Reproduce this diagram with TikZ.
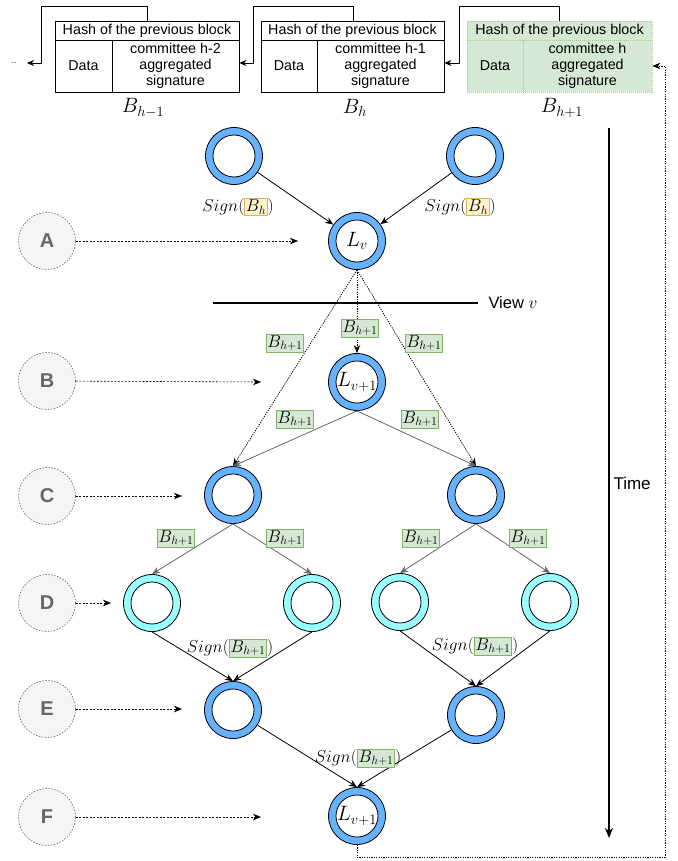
\documentclass[tikz,border=0pt]{standalone}
\usepackage{fontspec}
\setmainfont{Liberation Sans}
\usetikzlibrary{arrows.meta}
\definecolor{ringblue}{HTML}{66B2FF}
\definecolor{ringcyan}{HTML}{99FFFF}
\definecolor{gfill}{HTML}{D5E8D4}
\definecolor{gdraw}{HTML}{82B366}
\definecolor{yfill}{HTML}{FFF2CC}
\definecolor{ydraw}{HTML}{D6B656}
\definecolor{lfill}{HTML}{F5F5F5}
\definecolor{ldraw}{HTML}{666666}
\definecolor{garrow}{HTML}{666666}
\tikzset{
  ring/.style={circle, draw=black, line width=0.8pt, fill=ringblue, minimum size=57pt, inner sep=0pt,
    path picture={\draw[fill=white, line width=0.8pt] (path picture bounding box.center) circle (21pt);}},
  cring/.style={ring, fill=ringcyan},
  lring/.style={ring, font=\fontsize{21}{24}\selectfont},
  letter/.style={circle, draw=ldraw, fill=lfill, dash pattern=on 1.5pt off 1.5pt, line width=0.6pt,
    minimum size=57pt, inner sep=0pt, text=ldraw, font=\fontsize{20}{22}\selectfont\bfseries},
  cell/.style={draw=black, line width=0.8pt, rectangle, inner sep=0pt, align=center,
    font=\fontsize{14.3}{16}\selectfont},
  gcell/.style={cell, draw=gdraw!70, fill=gfill, dash pattern=on 1pt off 1pt},
  blab/.style={font=\fontsize{20}{22}\selectfont},
  gbox/.style={draw=gdraw, fill=gfill, inner sep=1.2pt, line width=0.6pt},
  ybox/.style={draw=ydraw, fill=yfill, inner sep=1.2pt, line width=0.6pt},
  lab/.style={font=\fontsize{17}{19}\selectfont, inner sep=1pt},
  tip/.style={-{Stealth[length=8pt,width=6.5pt]}},
  blk/.style={tip, line width=0.8pt},
  gry/.style={tip, line width=0.8pt, draw=garrow},
  dots/.style={tip, line width=0.8pt, dash pattern=on 1.2pt off 1.2pt},
  side/.style={tip, line width=0.6pt, dash pattern=on 2pt off 1.5pt},
}
\newcommand{\gB}{\tikz[baseline=(b.base)]\node[gbox](b){$B_{h+1}$};}
\newcommand{\yB}{\tikz[baseline=(b.base)]\node[ybox](b){$B_{h}$};}
\begin{document}
\begin{tikzpicture}[x=1pt,y=-1pt]
\useasboundingbox (0,0) rectangle (677,861);
% ---- blocks ----
% block 1
\node[cell, minimum width=184pt, minimum height=19pt] (h1) at (147,30.5) {Hash of the previous block};
\node[cell, minimum width=57pt, minimum height=52pt] (d1) at (83.5,66) {Data};
\node[cell, minimum width=127pt, minimum height=52pt] (s1) at (175.5,66) {committee h-2\\aggregated\\signature};
\node[blab] (l1) at (143,108) {$B_{h-1}$};
% block 2
\node[cell, minimum width=183pt, minimum height=19pt] (h2) at (352.5,30.5) {Hash of the previous block};
\node[cell, minimum width=56pt, minimum height=52pt] (d2) at (289,66) {Data};
\node[cell, minimum width=127pt, minimum height=52pt] (s2) at (380.5,66) {committee h-1\\aggregated\\signature};
\node[blab] (l2) at (355,108) {$B_{h}$};
% block 3
\node[gcell, minimum width=185pt, minimum height=19pt] (h3) at (559.5,30.5) {Hash of the previous block};
\node[gcell, minimum width=56pt, minimum height=52pt] (d3) at (495,66) {Data};
\node[gcell, minimum width=129pt, minimum height=52pt] (s3) at (587.5,66) {committee h\\aggregated\\signature};
\node[blab] (l3) at (562,108) {$B_{h+1}$};
\node[font=\scriptsize] (dots0) at (14,63) {...};
\coordinate (e0) at (27,63);
% block links
\draw[line width=0.8pt, -{Stealth[length=7pt,width=6pt]}] (147,21) |- (41,6) |- (e0);
\draw[line width=0.8pt, -{Stealth[length=7pt,width=6pt]}] (353,21) |- (253,6) |- (s1.east |- 0,63);
\draw[line width=0.8pt, -{Stealth[length=7pt,width=6pt]}] (559,21) |- (459,6) |- (s2.east |- 0,63);
% ---- ring nodes ----
\node[ring] (t1) at (234,156) {};
\node[ring] (t2) at (475,156) {};
\node[lring] (lv) at (357,241) {$L_v$};
\node[lring] (lv1) at (357,382) {$L_{v+1}$};
\node[ring] (c1) at (233,495) {};
\node[ring] (c2) at (476,495) {};
\node[cring] (d1n) at (152,603) {};
\node[cring] (d2n) at (312,603) {};
\node[cring] (d3n) at (400,602) {};
\node[cring] (d4n) at (550,602) {};
\node[ring] (e1) at (233,710) {};
\node[ring] (e2) at (476,715) {};
\node[lring] (lv2) at (357,816) {$L_{v+1}$};
% ---- letters ----
\node[letter] (A) at (47,241) {A};
\node[letter] (B) at (47,381) {B};
\node[letter] (C) at (47,496) {C};
\node[letter] (D) at (47,603) {D};
\node[letter] (E) at (47,709) {E};
\node[letter] (F) at (47,817) {F};
\coordinate (aA) at (298,241);
\coordinate (aB) at (261,382);
\coordinate (aC) at (182,496);
\coordinate (aD) at (111,603);
\coordinate (aE) at (182,709);
\coordinate (aF) at (261,817);
\foreach \n in {A,B,C,D,E,F} \draw[side] (\n) -- (a\n);
% ---- view line ----
\coordinate (v1) at (213,303);
\coordinate (v2) at (478,303);
\draw[line width=1.6pt] (v1) -- (v2);
\node[anchor=west, font=\fontsize{16.5}{18}\selectfont] (vt) at (485,303) {View $v$};
% ---- time ----
\coordinate (ti1) at (609,128);
\coordinate (ti2) at (609,838);
\draw[line width=1.8pt, -{Stealth[length=10pt,width=8pt]}] (ti1) -- (ti2);
\node[anchor=west, font=\fontsize{17}{19}\selectfont] (tt) at (610,483) {Time};
% ---- edges ----
\draw[blk] (t1) -- (lv);
\draw[blk] (t2) -- (lv);
\node[lab] at (238,207) {$Sign($\yB$)$};
\node[lab] at (460,207) {$Sign($\yB$)$};
\draw[dots] (lv.south) -- (lv1.north);
\draw[dots] (lv.south) -- (c1.north);
\draw[dots] (lv.south) -- (c2.north);
\node[lab] at (360,328) {\gB};
\node[lab] at (285,343) {\gB};
\node[lab] at (424,343) {\gB};
\draw[gry] (lv1.south) -- (c1.north);
\draw[gry] (lv1.south) -- (c2.north);
\node[lab] at (295,419) {\gB};
\node[lab] at (420,419) {\gB};
\draw[gry] (c1.south) -- (d1n.north);
\draw[gry] (c1.south) -- (d2n.north);
\draw[gry] (c2.south) -- (d3n.north);
\draw[gry] (c2.south) -- (d4n.north);
\node[lab] at (176,538) {\gB};
\node[lab] at (285,538) {\gB};
\node[lab] at (421,538) {\gB};
\node[lab] at (528,538) {\gB};
\draw[blk] (d1n.south) -- (e1.north);
\draw[blk] (d2n.south) -- (e1.north);
\draw[blk] (d3n.south) -- (e2.north);
\draw[blk] (d4n.south) -- (e2.north);
\node[lab] at (230,648) {$Sign($\gB$)$};
\node[lab] at (475,646) {$Sign($\gB$)$};
\draw[blk] (e1) -- (lv2.north);
\draw[blk] (e2) -- (lv2.north);
\node[lab] at (358,758) {$Sign($\gB$)$};
% ---- feedback ----
\coordinate (fb1) at (357,857);
\coordinate (fb2) at (665,857);
\coordinate (fb3) at (665,66);
\draw[dots] (lv2.south) -- (fb1) -- (fb2) -- (fb3) -- (s3.east |- fb3);
\end{tikzpicture}
\end{document}
